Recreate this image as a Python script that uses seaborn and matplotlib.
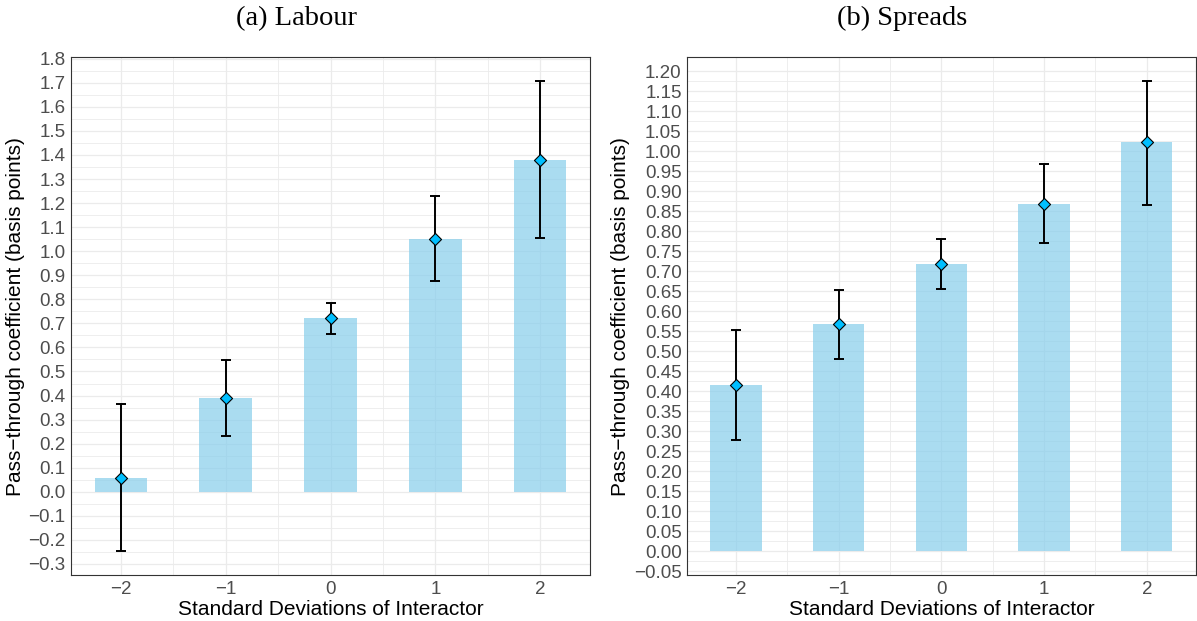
import numpy as np
import pandas as pd
import matplotlib
matplotlib.use("Agg")
import matplotlib.pyplot as plt
import seaborn as sns

# Interactor levels (standard deviations) shared by both panels
sd_levels = [-2, -1, 0, 1, 2]
sd_labels = ["\u22122", "\u22121", "0", "1", "2"]

# (a) Labour: pass-through estimates with confidence bounds
labour_est = [0.058, 0.39, 0.722, 1.05, 1.381]
labour_lo = [-0.248, 0.23, 0.656, 0.876, 1.055]
labour_hi = [0.365, 0.548, 0.784, 1.228, 1.708]

# (b) Spreads: pass-through estimates with confidence bounds
spreads_est = [0.416, 0.568, 0.718, 0.869, 1.022]
spreads_lo = [0.278, 0.481, 0.655, 0.771, 0.865]
spreads_hi = [0.554, 0.653, 0.781, 0.967, 1.176]

panel_titles = ["(a) Labour", "(b) Spreads"]
x_title = "Standard Deviations of Interactor"
y_title = "Pass\u2212through coefficient (basis points)"

sns.set_theme(style="white")
plt.rcParams["font.family"] = ["Liberation Sans", "DejaVu Sans"]

W, H = 1197, 621
fig = plt.figure(figsize=(W / 100, H / 100), dpi=100)

BORDER = "#333333"
TICKTXT = "#4D4D4D"
GRID = "#EBEBEB"


def draw_panel(ax, est, lo, hi, major_step, decimals):
    df = pd.DataFrame({"sd": sd_levels, "est": est})
    sns.barplot(data=df, x="sd", y="est", native_scale=True, width=0.5,
                color="skyblue", alpha=0.7, saturation=1, errorbar=None,
                linewidth=0, ax=ax, zorder=2)
    est_a = np.asarray(est)
    ax.errorbar(sd_levels, est_a,
                yerr=[est_a - np.asarray(lo), np.asarray(hi) - est_a],
                fmt="none", ecolor="black", elinewidth=1.4,
                capsize=3.8, capthick=1.4, zorder=3)
    sns.scatterplot(data=df, x="sd", y="est", marker="D", s=38,
                    color="#00BFFF", edgecolor="black", linewidth=0.8,
                    ax=ax, zorder=4, legend=False)

    # limits: data extent (including the zero baseline) plus 5% padding
    ymin = min(0.0, min(lo))
    ymax = max(hi)
    pad = 0.05 * (ymax - ymin)
    ax.set_ylim(ymin - pad, ymax + pad)
    xpad = 0.05 * 4.5
    ax.set_xlim(-2.25 - xpad, 2.25 + xpad)

    first = np.ceil((ymin - pad) / major_step - 1e-9) * major_step
    yt = np.round(np.arange(first, ymax + pad + 1e-9, major_step), 3)
    ylab = [f"{v:.{decimals}f}".replace("-", "\u2212") for v in yt]
    ax.set_yticks(yt, ylab)
    ax.set_yticks(np.round(yt[:-1] + major_step / 2, 4), minor=True)
    ax.set_xticks(sd_levels, sd_labels)
    ax.set_xticks([-1.5, -0.5, 0.5, 1.5], minor=True)

    ax.set_axisbelow(True)
    ax.grid(which="major", color=GRID, linewidth=0.9, zorder=0)
    ax.grid(which="minor", color=GRID, linewidth=0.6, zorder=0)
    for s in ax.spines.values():
        s.set_visible(True)
        s.set_color(BORDER)
        s.set_linewidth(0.8)
    ax.tick_params(which="major", direction="out", length=3, width=0.8,
                   color=BORDER, labelcolor=TICKTXT, labelsize=13.5)
    ax.tick_params(axis="y", which="major", pad=1)
    ax.tick_params(axis="x", which="major", pad=1.2)
    ax.tick_params(which="minor", length=0)

    ax.set_xlabel(x_title, fontsize=15, color="black", va="baseline")
    ax.set_ylabel(y_title, fontsize=15, color="black")


# axes placed in pixel units
def px_axes(x0, x1, ytop, ybot):
    return fig.add_axes([x0 / W, 1 - ybot / H, (x1 - x0) / W, (ybot - ytop) / H])


ax1 = px_axes(71, 590, 57.3, 575)
ax2 = px_axes(687.3, 1195.6, 57.3, 575)

draw_panel(ax1, labour_est, labour_lo, labour_hi, 0.1, 1)
draw_panel(ax2, spreads_est, spreads_lo, spreads_hi, 0.05, 2)

for ax, ylab_x in ((ax1, 16), (ax2, 621)):
    pos = ax.get_position()
    x0_px = pos.x0 * W
    w_px = pos.width * W
    h_px = pos.height * H
    ax.xaxis.set_label_coords(0.5, -(615 - 575) / h_px)
    ax.yaxis.label.set_rotation_mode("default")
    ax.yaxis.label.set_va("center")
    ax.yaxis.label.set_ha("center")
    ax.yaxis.set_label_coords((ylab_x - x0_px) / w_px, 0.5)

fig.text(297 / W, 1 - 25 / H, panel_titles[0], family=["Liberation Serif", "DejaVu Serif"],
         fontsize=20.5, ha="center", va="baseline", color="black")
fig.text(902 / W, 1 - 25 / H, panel_titles[1], family=["Liberation Serif", "DejaVu Serif"],
         fontsize=20.5, ha="center", va="baseline", color="black")

fig.savefig("out.png", dpi=100, facecolor="white")
